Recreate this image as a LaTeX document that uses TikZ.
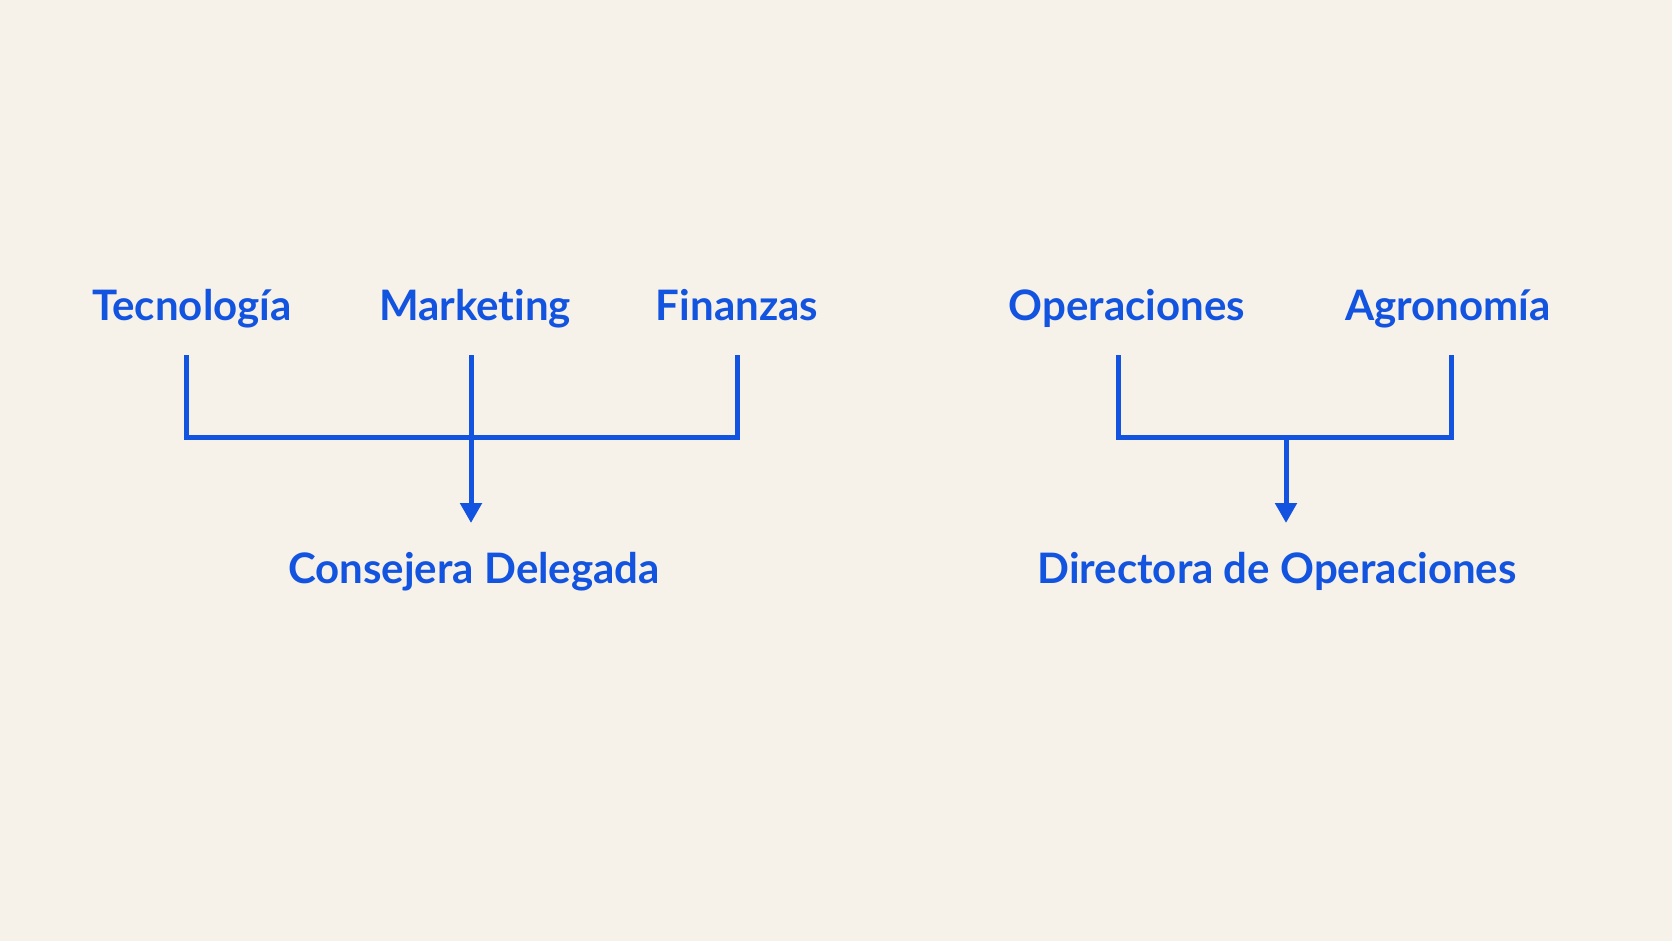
\documentclass[tikz,border=0pt]{standalone}
\usepackage{fontspec}
\setmainfont{Lato}[Ligatures=NoCommon]
\usetikzlibrary{arrows.meta}
\definecolor{paper}{HTML}{F6F1E9}
\definecolor{ink}{HTML}{1254E0}
\tikzset{
	lbl/.style={text=ink, font=\fontsize{42}{50}\selectfont\bfseries, anchor=base, inner sep=0pt},
	wire/.style={draw=ink, line width=5pt},
	tip/.style={-{Triangle[width=21pt,length=20pt]}}
}
\begin{document}
\begin{tikzpicture}[x=1pt,y=-1pt]
		\fill[paper] (0,0) rectangle (1672,941);
		\useasboundingbox (0,0) rectangle (1672,941);

		% left group
		\node[lbl] (tec) at (192,320) {Tecnología};
		\node[lbl] (mkt) at (475,320) {Marketing};
		\node[lbl] (fin) at (737,320) {Finanzas};
		\node[lbl] (ceo) at (474,583) {Consejera Delegada};

		\coordinate (tec-top) at (186,355);
		\coordinate (mkt-top) at (471,355);
		\coordinate (fin-top) at (737,355);
		\coordinate (bar-l) at (186,437);
		\coordinate (ceo-tip) at (471,523);

		\draw[wire] (tec-top) -- (bar-l) -- (bar-l -| fin-top) -- (fin-top);
		\draw[wire, tip] (mkt-top) -- (ceo-tip);

		% right group
		\node[lbl] (ops) at (1127,320) {Operaciones};
		\node[lbl] (agr) at (1448,320) {Agronomía};
		\node[lbl] (coo) at (1277,583) {Directora de Operaciones};

		\coordinate (ops-top) at (1118.5,355);
		\coordinate (agr-top) at (1451.5,355);
		\coordinate (bar-r) at (1118.5,437);
		\coordinate (coo-tip) at (1286,523);

		\draw[wire] (ops-top) -- (bar-r) -- (bar-r -| agr-top) -- (agr-top);
		\draw[wire, tip] (bar-r -| coo-tip) -- (coo-tip);
	\end{tikzpicture}
\end{document}
